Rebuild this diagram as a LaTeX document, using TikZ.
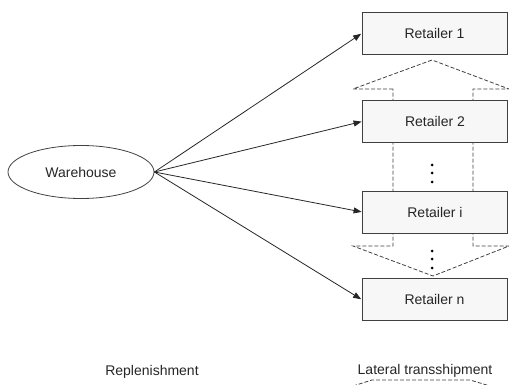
\documentclass[tikz,border=0pt]{standalone}
\usepackage{fontspec}
\setmainfont{Liberation Sans}
\usetikzlibrary{arrows.meta,shapes.geometric}
\begin{document}
\begin{tikzpicture}[x=1pt,y=-1pt,
  retailer/.style={draw=black!75, line width=0.8pt, fill=black!3, minimum width=145pt, minimum height=42pt, inner sep=0pt, font=\fontsize{14}{16}\selectfont, text=black!85},
  wh/.style={draw=black!75, line width=0.8pt, ellipse, minimum width=146pt, minimum height=53pt, inner sep=0pt, font=\fontsize{14}{16}\selectfont, text=black!85},
  supply/.style={draw=black!85, line width=0.8pt, -{Triangle[length=8pt,width=6pt]}, shorten >=0.5pt},
  lateral/.style={draw=black!75, line width=0.8pt, dash pattern=on 4pt off 2pt},
  lbl/.style={font=\fontsize{14}{16}\selectfont, text=black!85},
  dotmark/.style={circle, fill=black, inner sep=0pt, minimum size=3pt}]
\useasboundingbox (0,0) rectangle (509,385);
% lateral transshipment double arrow
\draw[lateral] (393,89) -- (353,89) -- (432,60) -- (509,89) -- (473,89) -- (473,246) -- (509,246) -- (433,276) -- (353,246) -- (393,246) -- cycle;
% nodes
\node[wh] (w) at (81,172) {Warehouse};
\node[retailer] (r1) at (434.5,33.5) {Retailer 1};
\node[retailer] (r2) at (435,121.5) {Retailer 2};
\node[retailer] (ri) at (435,212) {Retailer i};
\node[retailer] (rn) at (434.5,299.5) {Retailer n};
% dots
\node[dotmark] (d1) at (432,165) {};
\node[dotmark] (d2) at (432,173) {};
\node[dotmark] (d3) at (432,182) {};
\node[dotmark] (d4) at (432,251) {};
\node[dotmark] (d5) at (432,259) {};
\node[dotmark] (d6) at (432,268) {};
% replenishment arrows
\draw[supply] (w.east) -- (r1.west);
\draw[supply] (w.east) -- (r2.west);
\draw[supply] (w.east) -- (ri.west);
\draw[supply] (w.east) -- (rn.west);
% legend labels
\node[lbl] (rep) at (152,372) {Replenishment};
\node[lbl] (lat) at (425,371) {Lateral transshipment};
\draw[lateral] (353,386) -- (372,380) -- (470,380) -- (490,386);
\end{tikzpicture}
\end{document}
